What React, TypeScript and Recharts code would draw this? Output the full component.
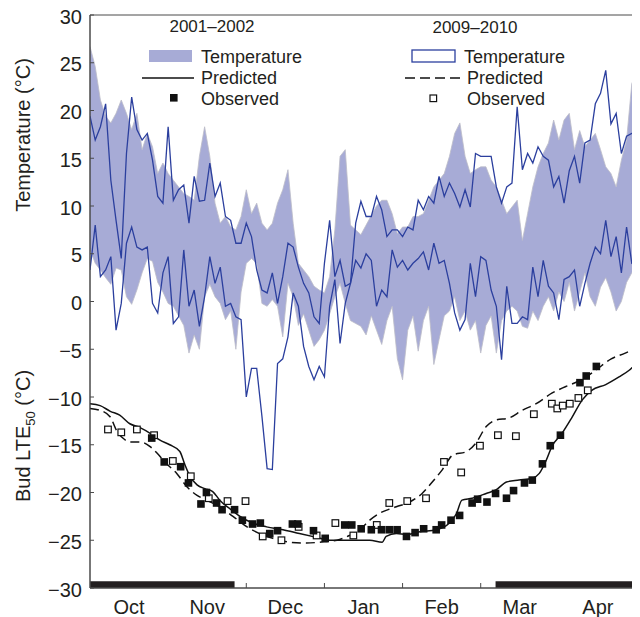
import React from 'react';
import { ComposedChart, Area, Line, Scatter, XAxis, YAxis, ReferenceArea } from 'recharts';

const INK = '#231f20';
const AXIS = '#4a4a4a';
const BAND = '#a7abd6';
const BLUE = '#2b3f9e';

// x runs in "month units": 0 = start of Oct, 7 = end of Apr (each month same width)
const STEPS_PER_MONTH = 15;
const months = ['Oct', 'Nov', 'Dec', 'Jan', 'Feb', 'Mar', 'Apr'];
// month labels sit on the halves, boundary ticks on whole numbers (Nov 1 / Apr 1 are under the bars)
const xTicks = [0.5, 1.5, 2, 2.5, 3, 3.5, 4, 4.5, 5, 5.5, 6.5];
const yTicks = [-30, -25, -20, -15, -10, -5, 0, 5, 10, 15, 20, 25, 30];

// 2001–2002 air temperature range (shaded band), one row per month
const tMax2001 = [
  26.7, 24.6, 21.1, 19.4, 18.7, 19.7, 21.1, 19.7, 18, 19.7, 15.9, 17.6, 16.2, 13.4, 14.5,
  13.4, 12.7, 12, 11.3, 11, 10.6, 15.2, 18.3, 15.2, 10.3, 8.2, 8.9, 7.8, 7.5, 8.9,
  11.7, 9.2, 10.3, 8.2, 7.5, 8.2, 10.3, 11.7, 13.8, 8.2, 4, 3.3, 2.6, 1.6, 1.2,
  0.9, 2.6, 7.5, 15.2, 15.9, 8, 7.5, 7, 8, 9, 10, 10.6, 10.6, 9.2, 7.1,
  7.8, 7.8, 8.9, 8.9, 9.2, 10.6, 12, 12.7, 13.4, 15.2, 17.6, 18.7, 15.2, 13.4, 13.8,
  14.1, 14.1, 12.7, 12, 10.6, 9.2, 9.9, 10.6, 6.4, 9.2, 12, 14.1, 15.5, 16.6, 19,
  16.9, 19, 19.7, 15.9, 17.9, 16.2, 16.9, 17.6, 15.9, 14.1, 13.4, 12, 14.8, 16.9, 22.8,
  24.2,
];
const tMin2001 = [
  5.5, 4, 3.3, 2.5, 1.8, 3.5, 3.3, 0.5, -0.3, 1.2, 3, 4.5, 4.2, 2, 1,
  -0.2, -0.5, -1.5, -2.5, -5.4, -3.5, -5, 0.5, 1.8, 0.5, -0.2, -1.9, -1, -5, 1,
  4, 4.5, 4, -0.2, -0.5, 0.2, -0.5, -3.7, 1.9, 0.5, -2.5, -1.3, -3, -4.7, -4,
  -3, -1.3, 0.5, 1.9, -0.2, -2, -2.3, -2.6, -3.5, -1.5, -3, -4.5, -2, -0.5, -6,
  -8.2, -3, -1.5, -5.2, -2, -0.5, -6.6, -4, -1.5, -1, 0.5, -2, -1, -3, -2,
  -5.4, -2.5, -1.5, -5.4, -2, -1, -0.5, -1, -2.6, -2.8, -1, -2, -0.5, 0.5, -1,
  1, 0, 2, -1, 1, 3, 0.5, -0.5, 1.5, 2.5, 1, -1, 0, 2, 3,
  4,
];

// 2009–2010 daily max / min (blue outline)
const tMax2009 = [
  19.4, 16.9, 18.3, 20.7, 12.7, 8.5, 4.5, 15.5, 21.4, 18, 16.9, 17.6, 14.8, 11, 10.3,
  18.3, 10.6, 11.7, 12.2, 8.2, 13.1, 10.5, 10.6, 14.5, 11, 12.4, 8.9, 8.5, 6.1, 6.1,
  8.2, 6.8, 3.3, 1.2, 0.9, 3, -0.2, 2.6, 6.1, 5.7, 3.6, 1.9, 0.9, -1.6, -2.3,
  4, 8.5, 2.6, 4.3, 1.6, 1.9, 8.2, 10.5, 8.9, 8.9, 11, 9.6, 6.8, 7.5, 7.5,
  6.8, 7.8, 7.5, 10.6, 9.6, 11, 10.3, 13.1, 11, 12.4, 11.3, 9.9, 11.7, 9.9, 15.5,
  15.2, 15.2, 15.2, 12, 10.3, 12, 12.4, 20.4, 13.8, 15.5, 14.5, 16.2, 15.2, 14.8, 12,
  13.1, 10.3, 13.7, 15.2, 12.4, 16.6, 16.9, 20.7, 21.8, 24.2, 18.6, 19.7, 15.5, 17.3, 17.6,
  17.6,
];
const tMin2009 = [
  3.3, 8, 2.6, 3.3, 4.7, -3, -0.2, 6.1, 7.8, 5.7, 5.4, 5.7, -0.2, -1.2, 3,
  4.7, -2.3, -1.6, 5.4, -0.5, 1.2, -2.6, 0.5, 4.7, 1.9, 3.6, -0.5, -0.2, -1.6, -1.9,
  -10, -7, -7, -12, -17.5, -17.6, -6.5, -6, -3.7, 0.9, -0.5, -4.7, -6.8, -8.2, -6.8,
  -7.9, -0.5, 2.3, -4.4, -0.2, 1.9, 4.3, 3.5, 5, 4.3, -0.5, 1.2, 0.5, 5.4, 3.6,
  4.3, 3.3, 4, 4.5, 5.2, 3.3, 6.1, 4, 4.3, 1.9, -1.2, -3, -1.9, 4, 0.5,
  4.7, 4.3, 1.2, -0.5, -6.1, 1.6, -2.3, -2.3, -1.6, -1.9, 3.6, 0.5, 4.3, 1.6, 0.9,
  -1.9, 2.3, 2.6, 3.3, -0.5, 1.9, 4, 5.7, 5, 8.5, 4.7, 6.8, 3, 7.8, 4,
  3.6,
];

// predicted bud LTE50
const predX2001 = [
  0, 0.13, 0.26, 0.38, 0.51, 0.64, 0.77, 0.89, 1.02, 1.15, 1.21, 1.28, 1.37, 1.47, 1.57,
  1.66, 1.79, 1.92, 2.08, 2.26, 2.47, 2.68, 2.9, 3.07, 3.32, 3.58, 3.74, 3.79, 3.92, 4.05,
  4.22, 4.43, 4.6, 4.69, 4.76, 4.89, 5.07, 5.2, 5.33, 5.49, 5.66, 5.75, 5.84, 5.91, 6.04,
  6.17, 6.3, 6.42, 6.6, 6.77, 6.9, 6.99,
];
const pred2001 = [
  -10.7, -10.9, -11.5, -11.9, -12.8, -13.2, -13.8, -14.5, -15, -15.7, -17, -18.3, -19.2, -19.6, -19.9,
  -20.8, -21.7, -22.5, -23.2, -23.6, -23.9, -24.3, -24.7, -25, -25, -25, -25.2, -24.6, -24.3, -24.4,
  -24.1, -23.9, -23.2, -22.2, -20.8, -20.6, -20.1, -19.7, -18.9, -18.7, -18.5, -18, -16.6, -15.2, -13.8,
  -12.1, -10.3, -9.3, -8.7, -7.9, -7.2, -6.5,
];
const predX2009 = [
  0, 0.13, 0.26, 0.34, 0.42, 0.51, 0.64, 0.77, 0.86, 0.98, 1.11, 1.24, 1.37, 1.49, 1.66,
  1.83, 2.01, 2.17, 2.34, 2.55, 2.77, 2.94, 3.16, 3.32, 3.45, 3.58, 3.7, 3.92, 4.09, 4.25,
  4.38, 4.51, 4.64, 4.82, 4.94, 5.07, 5.2, 5.36, 5.53, 5.71, 5.91, 6.09, 6.29, 6.47, 6.67,
  6.85, 6.98,
];
const pred2009 = [
  -11.2, -11.4, -12.1, -13.5, -14.3, -14.7, -14.7, -15.2, -15.9, -17, -18, -19.4, -20.3, -20.8, -21.5,
  -22.5, -23.6, -24.3, -24.8, -25.2, -25.3, -25.2, -25, -24.5, -23.9, -22.9, -22.2, -21.5, -21, -20.1,
  -18.9, -17.6, -16.1, -15.7, -14.8, -13.1, -12.4, -12.2, -11.4, -10.7, -9.6, -8.9, -8.2, -7.2, -6,
  -5.4, -4.9,
];

// observed bud LTE50
const obsX2001 = [
  0.79, 0.95, 1.16, 1.26, 1.42, 1.49, 1.62, 1.69, 1.85, 1.95, 2.08, 2.18, 2.3, 2.4, 2.59, 2.66,
  2.86, 3.01, 3.26, 3.35, 3.47, 3.6, 3.73, 3.83, 3.93, 4.05, 4.16, 4.27, 4.43, 4.5, 4.62, 4.73,
  4.89, 4.96, 5.08, 5.19, 5.33, 5.42, 5.56, 5.66, 5.79, 5.89, 6.02, 6.27, 6.35, 6.48,
];
const obs2001 = [
  -14.3, -16.8, -17.3, -19, -21.2, -20, -21.1, -21.8, -21.8, -22.9, -23.3, -23.2, -24.3, -24, -23.3, -23.3,
  -24, -24.8, -23.4, -23.4, -23.8, -23.9, -23.9, -23.9, -23.9, -24.6, -24.2, -23.8, -23.9, -23.4, -22.9, -22.4,
  -21.1, -20.7, -21, -20.1, -20.6, -19.8, -19, -18.7, -17, -15.1, -14, -8.5, -7.8, -6.8,
];
const obsX2009 = [
  0.23, 0.4, 0.6, 0.82, 1.06, 1.29, 1.52, 1.76, 1.99, 2.21, 2.45, 2.67, 2.9, 3.14, 3.37, 3.67,
  3.83, 4.06, 4.3, 4.53, 4.75, 4.99, 5.22, 5.45, 5.68, 5.91, 5.98, 6.05, 6.14, 6.25, 6.37,
];
const obs2009 = [
  -13.4, -13.7, -13.4, -14, -16.7, -18.3, -20.6, -20.9, -20.9, -24.6, -25, -23.6, -24.5, -23.2, -24.5, -23.4,
  -21.1, -20.9, -20.6, -16.8, -17.9, -15.1, -14, -14.1, -11.8, -10.7, -11.2, -10.9, -10.7, -10.1, -9.3,
];

// black bars along the bottom axis (start, end in month units)
const frostBars = [
  [0, 1.85],
  [5.19, 7],
];

const tempRows = tMax2001.map((hi, i) => ({
  x: i / STEPS_PER_MONTH,
  band: [tMin2001[i], hi],
  max09: tMax2009[i],
  min09: tMin2009[i],
}));
const toRows = (xs: number[], ys: number[]) => xs.map((x, i) => ({ x, y: ys[i] }));

const fmt = (v: number) => (v < 0 ? `\u2212${Math.abs(v)}` : `${v}`);

const XTick = (props: any) => {
  const { x, y, payload } = props;
  const v = payload.value;
  if (Number.isInteger(v)) {
    return <line x1={x} x2={x} y1={y} y2={y - 5} stroke={AXIS} strokeWidth={1} />;
  }
  return (
    <text x={x} y={y + 26} textAnchor="middle" fontSize={20} fill={INK}>
      {months[Math.floor(v)]}
    </text>
  );
};

const YTick = (props: any) => {
  const { x, y, payload } = props;
  return (
    <g>
      <line x1={x} x2={x + 4} y1={y} y2={y} stroke={AXIS} strokeWidth={1} />
      <text x={x - 8} y={y} dy={8.5} textAnchor="end" fontSize={20} fill={INK}>
        {fmt(payload.value)}
      </text>
    </g>
  );
};

const FilledSquare = (p: any) => <rect x={p.cx - 3.8} y={p.cy - 3.8} width={7.6} height={7.6} fill="#111" />;
const OpenSquare = (p: any) => (
  <rect x={p.cx - 3.3} y={p.cy - 3.3} width={6.6} height={6.6} fill="#fff" stroke="#111" strokeWidth={1.2} />
);

const Legends = () => (
  <svg width={640} height={609} style={{ position: 'absolute', left: 0, top: 0, pointerEvents: 'none' }}>
    <g fill={INK}>
      <text x={204} y={24} fontSize={17} textAnchor="middle">2001–2002</text>
      <rect x={141} y={42} width={43} height={12} fill={BAND} />
      <text x={193} y={55} fontSize={18}>Temperature</text>
      <line x1={134} x2={186} y1={70} y2={70} stroke="#111" strokeWidth={1.3} />
      <text x={193} y={76} fontSize={18}>Predicted</text>
      <rect x={162} y={86} width={7.6} height={7.6} fill="#111" />
      <text x={193} y={97} fontSize={18}>Observed</text>

      <text x={467} y={25} fontSize={17} textAnchor="middle">2009–2010</text>
      <rect x={404} y={42} width={43} height={12} fill="none" stroke={BLUE} strokeWidth={1.3} />
      <text x={456} y={55} fontSize={18}>Temperature</text>
      <line x1={397} x2={454} y1={70} y2={70} stroke="#111" strokeWidth={1.3} strokeDasharray="10 5" />
      <text x={459} y={76} fontSize={18}>Predicted</text>
      <rect x={422} y={87} width={6.6} height={6.6} fill="#fff" stroke="#111" strokeWidth={1.2} />
      <text x={459} y={97} fontSize={18}>Observed</text>

      <text x={15} y={127} fontSize={20} textAnchor="middle" dy="0.35em" transform="rotate(-90 15 127)">
        Temperature (°C)
      </text>
      <text x={15} y={428} fontSize={20} textAnchor="middle" dy="0.35em" transform="rotate(-90 15 428)">
        Bud LTE<tspan fontSize={13} dy={5}>50</tspan>
        <tspan dy={-5}> (°C)</tspan>
      </text>
    </g>
  </svg>
);

export default function App() {
  return (
    <div
      style={{
        position: 'relative',
        width: 640,
        height: 609,
        fontFamily: '"Liberation Sans", Arial, Helvetica, sans-serif',
      }}
    >
      <style>{'.recharts-surface{overflow:visible}'}</style>
      <ComposedChart
        width={640}
        height={609}
        data={tempRows}
        margin={{ top: 7, right: 11, bottom: 0, left: 0 }}
      >
        <XAxis
          dataKey="x"
          type="number"
          domain={[0, 7]}
          allowDataOverflow
          ticks={xTicks}
          interval={0}
          tick={<XTick />}
          tickLine={false}
          tickSize={0}
          tickMargin={0}
          height={29}
          axisLine={{ stroke: AXIS }}
        />
        <YAxis
          type="number"
          domain={[-30, 30]}
          allowDataOverflow
          ticks={yTicks}
          interval={0}
          tick={<YTick />}
          tickLine={false}
          tickSize={0}
          tickMargin={0}
          width={82}
          axisLine={{ stroke: AXIS }}
        />
        <Area
          dataKey="band"
          type="linear"
          fill={BAND}
          fillOpacity={1}
          stroke="#bcbcc8"
          strokeWidth={0.8}
          isAnimationActive={false}
        />
        <Line dataKey="max09" type="linear" stroke={BLUE} strokeWidth={1.3} dot={false} isAnimationActive={false} />
        <Line dataKey="min09" type="linear" stroke={BLUE} strokeWidth={1.3} dot={false} isAnimationActive={false} />
        <Line
          data={toRows(predX2001, pred2001)}
          dataKey="y"
          type="monotone"
          stroke="#111"
          strokeWidth={1.5}
          dot={false}
          isAnimationActive={false}
        />
        <Line
          data={toRows(predX2009, pred2009)}
          dataKey="y"
          type="monotone"
          stroke="#111"
          strokeWidth={1.5}
          strokeDasharray="9 5"
          dot={false}
          isAnimationActive={false}
        />
        <Scatter data={toRows(obsX2009, obs2009)} dataKey="y" shape={OpenSquare} isAnimationActive={false} />
        <Scatter data={toRows(obsX2001, obs2001)} dataKey="y" shape={FilledSquare} isAnimationActive={false} />
        {frostBars.map(([a, b], i) => (
          <ReferenceArea key={i} x1={a} x2={b} y1={-30} y2={-29.3} fill="#231f20" fillOpacity={1} stroke="none" />
        ))}
        <ReferenceArea x1={0} x2={7} y1={-30} y2={30} fill="none" stroke={AXIS} strokeWidth={1} />
      </ComposedChart>
      <Legends />
    </div>
  );
}
